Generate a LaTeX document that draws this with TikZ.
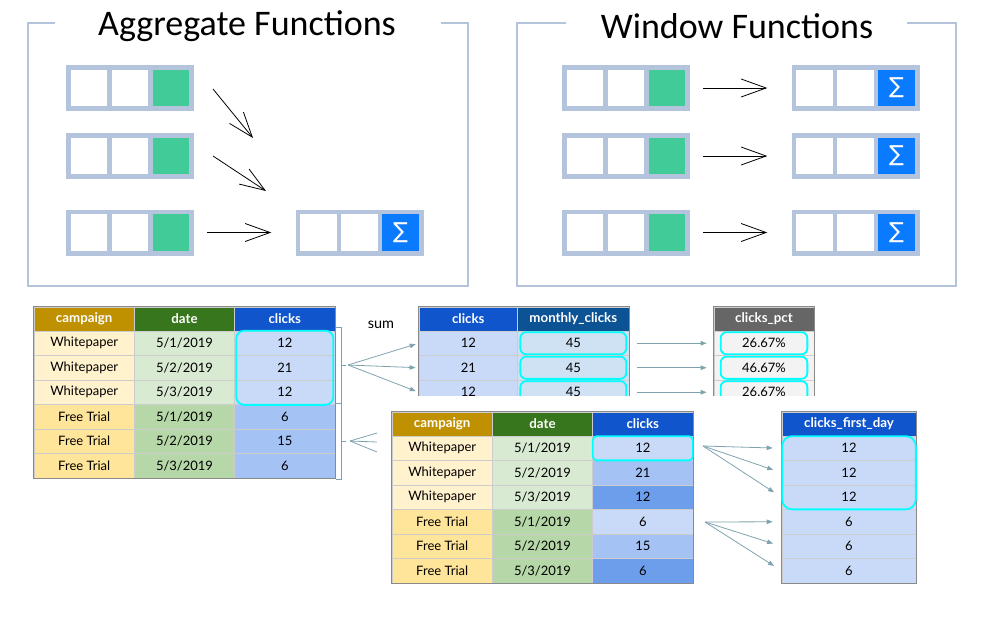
\documentclass[tikz,border=0pt]{standalone}
\usepackage{fontspec}
\usepackage{xcolor}
\usetikzlibrary{arrows.meta,fit}

\newfontfamily\titlefont{Carlito}
\newfontfamily\tabfont{Lato}
\newfontfamily\symfont{DejaVu Sans}

\definecolor{frameBlue}{HTML}{B4C4DC}
\definecolor{mintGreen}{HTML}{41CB99}
\definecolor{sigmaBlue}{HTML}{0A7BFF}
\definecolor{hdrGold}{HTML}{BF9000}
\definecolor{hdrGreen}{HTML}{38761D}
\definecolor{hdrBlue}{HTML}{1155CC}
\definecolor{hdrNavy}{HTML}{0B5394}
\definecolor{hdrGray}{HTML}{666666}
\definecolor{wpYellow}{HTML}{FFF2CC}
\definecolor{ftYellow}{HTML}{FFE599}
\definecolor{wpGreen}{HTML}{D9EAD3}
\definecolor{ftGreen}{HTML}{B6D7A8}
\definecolor{blueA}{HTML}{C9DAF8}
\definecolor{blueB}{HTML}{A4C2F4}
\definecolor{blueC}{HTML}{6D9EEB}
\definecolor{paleBlue}{HTML}{CFE2F3}
\definecolor{paleGray}{HTML}{F3F3F3}
\definecolor{gridGray}{HTML}{CCCCCC}
\definecolor{edgeGray}{HTML}{8A8A8A}
\definecolor{hiCyan}{HTML}{00FFFF}
\definecolor{linkTeal}{HTML}{7EA3AF}

% one row of three cells: name, x, y, fill of last cell, text of last cell
\newcommand{\fnrow}[5]{%
  \node[rowframe] (#1) at (#2,#3) {};
  \node[fncell, xshift=-41pt] (#1-a) at (#1) {};
  \node[fncell] (#1-b) at (#1) {};
  \node[fncell, fill=#4, xshift=41pt] (#1-c) at (#1) {#5};
}

\begin{document}
\begin{tikzpicture}[x=1pt, y=-1pt,
    title/.style={font=\titlefont\fontsize{36}{38}\selectfont, inner sep=0pt},
    fnframe/.style={draw=frameBlue, line width=2.6},
    rowframe/.style={fill=frameBlue, minimum width=128, minimum height=46, inner sep=0pt},
    fncell/.style={fill=white, minimum size=36.5, inner sep=0pt, text=white,
      font=\symfont\fontsize{22}{22}\selectfont},
    fnarrow/.style={line width=0.8, -{Straight Barb[length=25,width=18]}},
    tcell/.style={draw=gridGray, line width=0.7, minimum height=24.5, inner sep=0pt,
      font=\tabfont\fontsize{13}{15}\selectfont},
    thead/.style={tcell, minimum height=24, text=white,
      font=\tabfont\bfseries\fontsize{13.3}{15}\selectfont},
    tborder/.style={draw=edgeGray, line width=0.9},
    hilite/.style={draw=hiCyan, line width=1.8, rounded corners=6, inner sep=0pt},
    link/.style={draw=linkTeal, line width=0.8, -{Triangle[length=6,width=4.5]}},
    bracket/.style={draw=linkTeal, line width=0.8}]
\useasboundingbox (0,0) rectangle (982,622);

% aggregate functions
\node[title] (aggTitle) at (247,26) {Aggregate Functions};
\draw[fnframe] (55,23) -- (28,23) -- (28,286) -- (468,286) -- (468,23) -- (441,23);
\fnrow{a1}{130}{88}{mintGreen}{}
\fnrow{a2}{130}{156}{mintGreen}{}
\fnrow{a3}{130}{232.5}{mintGreen}{}
\fnrow{ar}{359.5}{232.5}{sigmaBlue}{∑}
\coordinate (g1s) at (213,89);
\coordinate (g1e) at (253,138);
\coordinate (g2s) at (213,156);
\coordinate (g2e) at (266,191);
\draw[fnarrow] (g1s) -- (g1e);
\draw[fnarrow] (g2s) -- (g2e);
\draw[fnarrow, shorten <=13, shorten >=24] (a3.east) -- (ar.west);

% window functions
\node[title] (winTitle) at (737,26) {Window Functions};
\draw[fnframe] (566,23) -- (517,23) -- (517,286) -- (956,286) -- (956,23) -- (907,23);
\foreach \k/\y in {1/88, 2/156, 3/232.5}{
  \fnrow{w\k}{626}{\y}{mintGreen}{}
  \fnrow{wr\k}{855.5}{\y}{sigmaBlue}{∑}
  \draw[fnarrow, shorten <=13, shorten >=24] (w\k.east) -- (wr\k.west);
}

% source table
\foreach \hd/\hc [count=\k] in {campaign/hdrGold, date/hdrGreen, clicks/hdrBlue}
  \node[thead, minimum width=100.3, fill=\hc] (t1-h\k) at ({84.2+100.3*(\k-1)},319) {\hd};
\foreach \r/\camp/\d/\c/\ca/\cb/\cc in {1/Whitepaper/1/12/wpYellow/wpGreen/blueA,
    2/Whitepaper/2/21/wpYellow/wpGreen/blueA, 3/Whitepaper/3/12/wpYellow/wpGreen/blueA,
    4/Free Trial/1/6/ftYellow/ftGreen/blueB, 5/Free Trial/2/15/ftYellow/ftGreen/blueB,
    6/Free Trial/3/6/ftYellow/ftGreen/blueB}{
  \node[tcell, minimum width=100.3, fill=\ca] (t1-\r-1) at (84.2,{318.75+24.5*\r}) {\camp};
  \node[tcell, minimum width=100.3, fill=\cb] (t1-\r-2) at (184.5,{318.75+24.5*\r}) {5/\d/2019};
  \node[tcell, minimum width=100.3, fill=\cc] (t1-\r-3) at (284.8,{318.75+24.5*\r}) {\c};
}
\draw[tborder] (t1-h1.north west) rectangle (t1-6-3.south east);
\node[hilite, rounded corners=8, inner xsep=-2pt, fit=(t1-1-3)(t1-3-3)] (t1-hl) {};

% group brackets
\draw[bracket] (336,327) -- (341,327) -- (341,403.5) -- (336,403.5);
\draw[bracket] (341,365) -- (346,365);
\draw[bracket] (341,403.5) -- (341,479) -- (336,479);
\draw[bracket] (341,441) -- (346,441);
\coordinate (wpBrace) at (348,365);
\coordinate (ftBrace) at (350,441);
\node[font=\tabfont\fontsize{14.5}{16}\selectfont] (sumLabel) at (381,325) {sum};

% sum table and percent table, cut off at the bottom
\begin{scope}
  \clip (405,300) rectangle (830,395.5);
  \node[thead, minimum width=98.7, fill=hdrBlue] (t2-h1) at (468.3,319) {clicks};
  \node[thead, minimum width=111.3, fill=hdrNavy] (t2-h2) at (573.3,319) {monthly\_clicks};
  \node[thead, minimum width=100, fill=hdrGray] (tp-h) at (764,319) {clicks\_pct};
  \foreach \r/\c/\p in {1/12/26.67\%, 2/21/46.67\%, 3/12/26.67\%}{
    \node[tcell, minimum width=98.7, fill=blueA] (t2-\r-1) at (468.3,{318.75+24.5*\r}) {\c};
    \node[tcell, minimum width=111.3, fill=paleBlue] (t2-\r-2) at (573.3,{318.75+24.5*\r}) {45};
    \node[tcell, minimum width=100, fill=paleGray] (tp-\r) at (764,{318.75+24.5*\r}) {\p};
    \node[hilite, inner xsep=-3pt, inner ysep=-1.5pt, fit=(t2-\r-2)] (t2-hl\r) {};
    \node[hilite, inner xsep=-7pt, inner ysep=-1.5pt, fit=(tp-\r)] (tp-hl\r) {};
  }
  \draw[tborder] (t2-h1.north west) rectangle (t2-3-2.south east);
  \draw[tborder] (tp-h.north west) rectangle (tp-3.south east);
\end{scope}
\foreach \r in {1,2,3}{
  \draw[link, shorten >=3] (wpBrace) -- (t2-\r-1.west);
  \draw[link, shorten <=8, shorten >=7] (t2-\r-2.east) -- (tp-\r.west);
}
\coordinate (ftEnd1) at (377,433);
\coordinate (ftEnd2) at (377,442);
\coordinate (ftEnd3) at (377,452);
\foreach \k in {1,2,3}
  \draw[bracket] (ftBrace) -- (ftEnd\k);

% first value table
\foreach \hd/\hc [count=\k] in {campaign/hdrGold, date/hdrGreen, clicks/hdrBlue}
  \node[thead, minimum width=100.3, fill=\hc] (t3-h\k) at ({442.2+100.3*(\k-1)},424) {\hd};
\node[thead, minimum width=134, fill=hdrBlue] (t4-h) at (849,424) {clicks\_first\_day};
\foreach \r/\camp/\d/\c/\f/\ca/\cb/\cc in {1/Whitepaper/1/12/12/wpYellow/wpGreen/blueA,
    2/Whitepaper/2/21/12/wpYellow/wpGreen/blueB, 3/Whitepaper/3/12/12/wpYellow/wpGreen/blueC,
    4/Free Trial/1/6/6/ftYellow/ftGreen/blueA, 5/Free Trial/2/15/6/ftYellow/ftGreen/blueB,
    6/Free Trial/3/6/6/ftYellow/ftGreen/blueC}{
  \node[tcell, minimum width=100.3, fill=\ca] (t3-\r-1) at (442.2,{423.75+24.5*\r}) {\camp};
  \node[tcell, minimum width=100.3, fill=\cb] (t3-\r-2) at (542.5,{423.75+24.5*\r}) {5/\d/2019};
  \node[tcell, minimum width=100.3, fill=\cc] (t3-\r-3) at (642.8,{423.75+24.5*\r}) {\c};
  \node[tcell, minimum width=134, fill=blueA] (t4-\r) at (849,{423.75+24.5*\r}) {\f};
}
\draw[tborder] (t3-h1.north west) rectangle (t3-6-3.south east);
\draw[tborder] (t4-h.north west) rectangle (t4-6.south east);
\node[hilite, rounded corners=4, inner sep=-0.5pt, fit=(t3-1-3)] (t3-hl) {};
\node[hilite, rounded corners=10, inner sep=-0.5pt, fit=(t4-1)(t4-3)] (t4-hl) {};
\coordinate (fanA) at (703,446);
\coordinate (fanB) at (705,522);
\foreach \r in {1,2,3}
  \draw[link, shorten >=9] (fanA) -- (t4-\r.west);
\foreach \r in {4,5,6}
  \draw[link, shorten >=9] (fanB) -- (t4-\r.west);
\end{tikzpicture}
\end{document}
